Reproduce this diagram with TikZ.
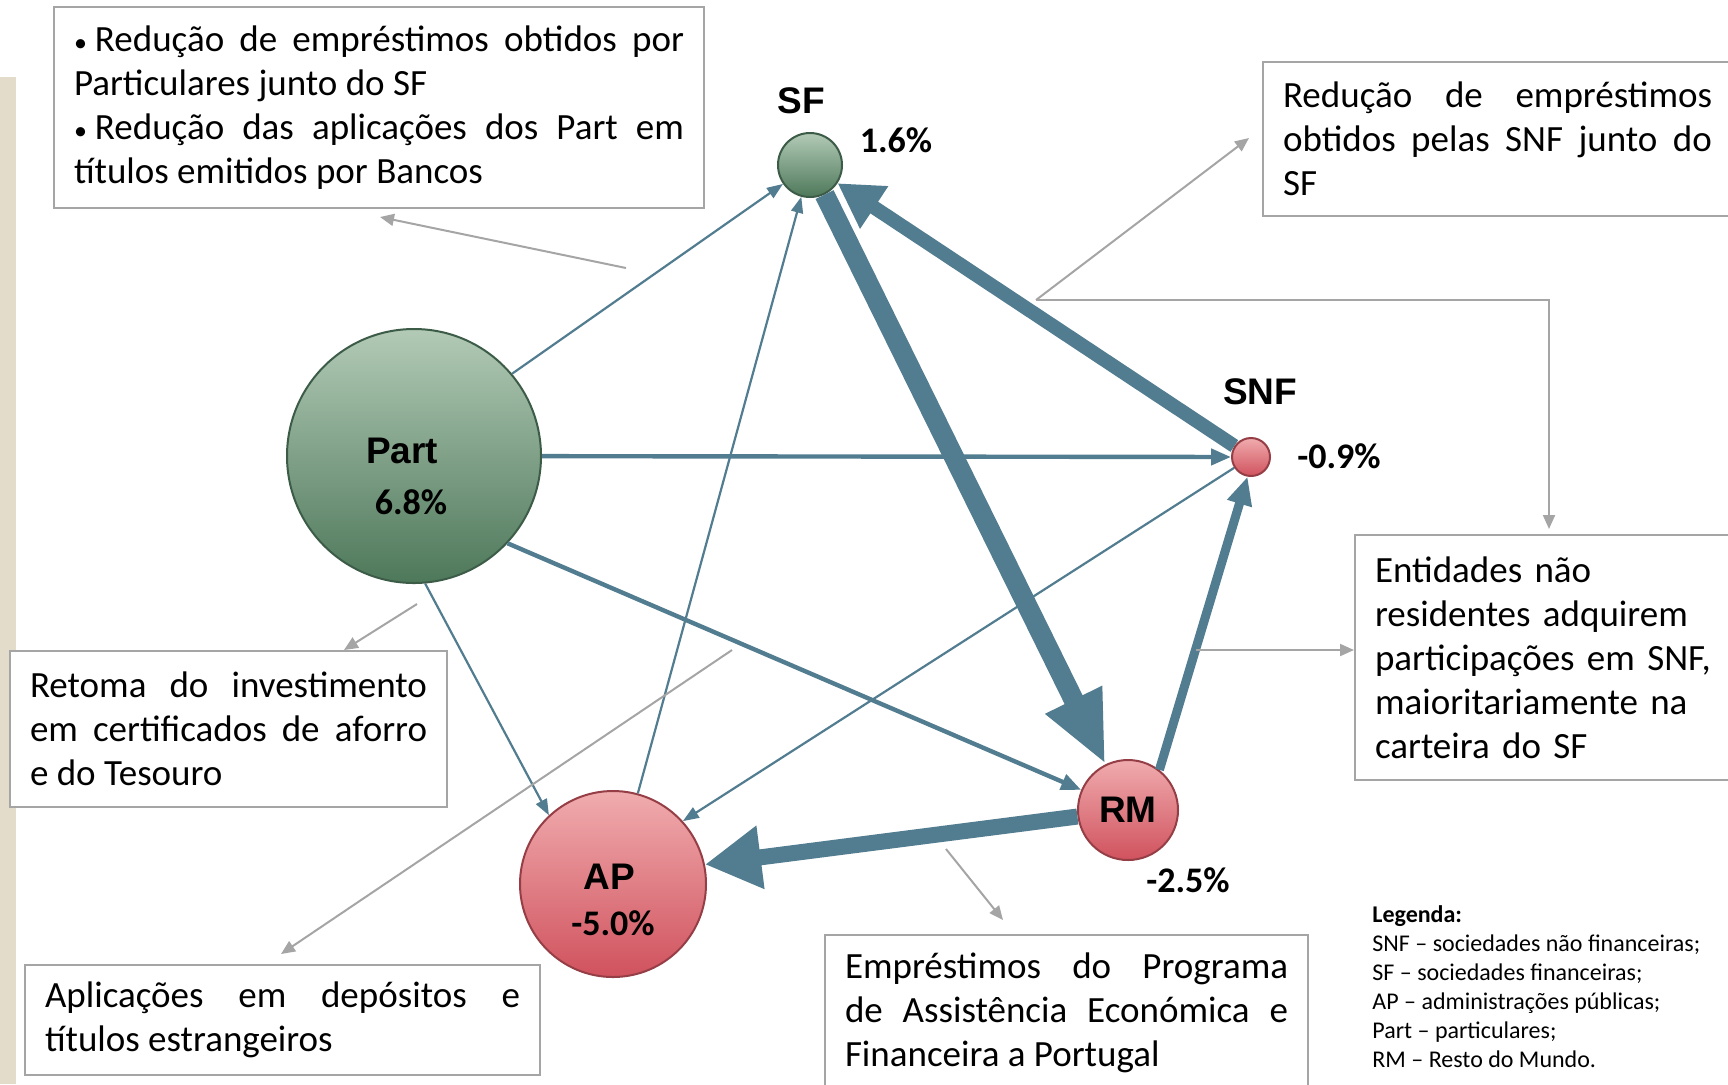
\documentclass[tikz,border=0pt]{standalone}
\usepackage{fontspec}
\setmainfont{Carlito}
\newfontfamily\lblfont{Liberation Sans}
\usepackage{xcolor}
\usetikzlibrary{arrows.meta}

\definecolor{flowblue}{RGB}{82,124,144}
\definecolor{notegray}{RGB}{165,165,165}
\definecolor{stripbeige}{RGB}{227,220,203}
\definecolor{greentop}{RGB}{178,202,182}
\definecolor{greenbot}{RGB}{78,120,90}
\definecolor{greenedge}{RGB}{60,92,72}
\definecolor{redtop}{RGB}{240,172,174}
\definecolor{redbot}{RGB}{208,82,94}
\definecolor{rededge}{RGB}{150,62,70}

\setlength{\parindent}{0pt}
\hyphenpenalty=10000
\tolerance=10000
\newcommand{\smallbullet}{{\fontsize{13}{14}\selectfont •}\kern4pt}

\tikzset{
	posnode/.style={draw=greenedge, line width=1pt, shape=circle, inner sep=0pt, top color=greentop, bottom color=greenbot},
	negnode/.style={draw=rededge, line width=1pt, shape=circle, inner sep=0pt, top color=redtop, bottom color=redbot},
	sectname/.style={font=\lblfont\bfseries\fontsize{18.5}{22}\selectfont},
	pct/.style={font=\bfseries\fontsize{18}{22}\selectfont},
	notebox/.style={draw=notegray, line width=1pt, fill=white, anchor=north west, inner xsep=10pt, inner ysep=0pt, align=justify, font=\fontsize{18.5}{22}\selectfont},
	noteline/.style={draw=notegray, line width=1pt, -{Triangle[width=6pt,length=7pt]}},
	flow/.style={draw=flowblue},
	flowthin/.style={flow, line width=1.1pt, -{Triangle[width=6pt,length=8pt]}},
	flowmid/.style={flow, line width=2.2pt, -{Triangle[width=8pt,length=10pt]}}
}

\begin{document}
\begin{tikzpicture}[x=0.5pt, y=-0.5pt]
	\useasboundingbox (0,0) rectangle (1728,1084);
	\fill [stripbeige] (0,77) rectangle (16,1084);
	
	% sectors
	\node [posnode, minimum size=32pt] (SF) at (810,165) {};
	\node [posnode, minimum size=127pt] (Part) at (414,456) {};
	\node [negnode, minimum size=19pt] (SNF) at (1251,457) {};
	\node [negnode, minimum size=50pt, sectname] (RM) at (1128,810) {RM};
	\node [negnode, minimum size=93pt] (AP) at (613,884) {};
	
	\node [sectname] (sfname) at (801,101) {SF};
	\node [pct] (sfpct) at (896,140) {1.6\%};
	\node [sectname] (snfname) at (1260,392) {SNF};
	\node [pct] (snfpct) at (1339,456) {-0.9\%};
	\node [pct] (rmpct) at (1188,880) {-2.5\%};
	\node [sectname] (partname) at (402,451) {Part};
	\node [pct] (partpct) at (411,502) {6.8\%};
	\node [sectname] (apname) at (609,877) {AP};
	\node [pct] (appct) at (613,923) {-5.0\%};
	
	% flows
	\draw [flowthin] (Part.40) to (SF);
	\draw [flowthin] (AP) to (SF);
	\draw [flow, line width=10pt, -{Triangle[width=29pt,length=36pt]}] (SF) to (RM);
	\draw [flow, line width=7pt, -{Triangle[width=24pt,length=22pt]}] (SNF) to (SF);
	\draw [flowmid] (Part) to (SNF);
	\draw [flowmid] (Part.-43) to (RM);
	\draw [flowthin] (Part.-85) to (AP.133);
	\draw [flowthin] (SNF) to (AP.42);
	\draw [flow, line width=4.5pt, -{Triangle[width=12pt,length=14pt]}] (RM.52) to (SNF.-100);
	\draw [flow, line width=8pt, -{Triangle[width=30pt,length=28pt]}] (RM) to (AP.12);
	
	% notes
	\node [notebox, text width=305pt, minimum height=100.5pt] (partbox) at (53,6) {\smallbullet Redução de empréstimos obtidos por\linebreak Particulares junto do SF\newline\smallbullet Redução das aplicações dos Part em\linebreak títulos emitidos por Bancos};
	\node [notebox, text width=214.5pt, minimum height=77pt] (snfbox) at (1262,61) {Redução de empréstimos\linebreak obtidos pelas SNF junto do\linebreak SF};
	\node [notebox, align=left, text width=172pt, minimum height=122.5pt] (rmbox) at (1354,534) {Entidades não\\residentes adquirem\\participações em SNF,\\maioritariamente na\\carteira do SF};
	\node [notebox, text width=198.5pt, minimum height=78pt] (aforrobox) at (9,650) {Retoma do investimento\linebreak em certificados de aforro\linebreak e do Tesouro};
	\node [notebox, text width=237.5pt, minimum height=55pt] (depbox) at (24,964) {Aplicações em depósitos e\linebreak títulos estrangeiros};
	\node [notebox, text width=221.5pt, minimum height=78pt] (paefbox) at (824,934) {Empréstimos do Programa\linebreak de Assistência Económica e\linebreak Financeira a Portugal};
	
	\node [anchor=north west, inner sep=0pt, align=left, font=\fontsize{12}{14.5}\selectfont] (legend) at (1372,905) {\textbf{Legenda:}\\SNF – sociedades não financeiras;\\SF – sociedades financeiras;\\AP – administrações públicas;\\Part – particulares;\\RM – Resto do Mundo.};
	
	\coordinate (n1) at (626,268);
	\coordinate (n2) at (1036,300);
	\coordinate (n3) at (1196,650);
	\coordinate (n4) at (417,604);
	\coordinate (n5) at (732,650);
	\coordinate (n6) at (946,849);
	
	\draw [noteline] (n1) to ([shift={(327,8)}]partbox.south west);
	\draw [noteline] (n2) to ([shift={(-13,77)}]snfbox.north west);
	\draw [noteline] (n2) -| ([shift={(195,-5)}]rmbox.north west);
	\draw [noteline] (n3) to (n3 -| rmbox.west);
	\draw [noteline] (n4) to ([shift={(335,0)}]aforrobox.north west);
	\draw [noteline] (n5) to ([shift={(257,-10)}]depbox.north west);
	\draw [noteline] (n6) to ([shift={(179,-14)}]paefbox.north west);
	
\end{tikzpicture}
\end{document}
